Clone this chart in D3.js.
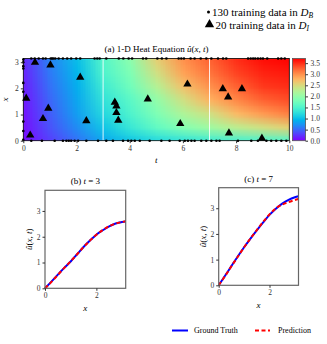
<!DOCTYPE html>
<html>
<head>
<meta charset="utf-8">
<script src="https://cdn.jsdelivr.net/npm/d3@7"></script>
<style>
  body { margin: 0; background: #fff; }
  svg { font-family: "Liberation Serif", serif; }
  .tick text { fill: #333; }
</style>
</head>
<body>
<div id="chart"></div>
<script>
// heat field: rows are x, columns are t = 0..10
const gridT = [0, 1, 2, 3, 4, 5, 6, 7, 8, 9, 10];
const gridX = [0, 0.52, 1.05, 1.57, 2.09, 2.62, 3.14];
const gridU = [
  [0.05, 0.30, 0.55, 0.85, 1.05, 1.20, 1.30, 1.40, 1.45, 1.50, 1.55],
  [0.08, 0.40, 0.70, 1.05, 1.35, 1.65, 1.90, 2.10, 2.30, 2.45, 2.60],
  [0.10, 0.45, 0.80, 1.20, 1.50, 1.85, 2.20, 2.45, 2.75, 2.95, 3.10],
  [0.12, 0.50, 0.85, 1.30, 1.60, 2.00, 2.45, 2.80, 3.05, 3.25, 3.35],
  [0.15, 0.55, 0.90, 1.40, 1.75, 2.25, 2.70, 3.00, 3.25, 3.45, 3.50],
  [0.18, 0.60, 0.95, 1.50, 1.85, 2.45, 2.90, 3.15, 3.40, 3.55, 3.60],
  [0.20, 0.65, 1.00, 1.55, 1.95, 2.60, 3.00, 3.25, 3.50, 3.65, 3.70]
];

// boundary / initial training points (D_B)
const topT = [0.3, 0.43, 0.58, 0.74, 0.84, 1.03, 1.08, 1.13, 1.2, 1.33, 1.49, 1.65, 1.8, 1.99, 2.14,
  2.68, 2.78, 2.87, 3.12, 3.59, 3.76, 3.96, 4.09, 4.5, 4.62, 5.04, 5.21, 5.38, 5.84, 5.94, 6.04,
  6.29, 6.44, 6.67, 6.88, 7.07, 7.32, 7.51, 7.63, 8.45, 8.55, 8.64, 8.72, 8.82, 8.92, 9.01, 9.17,
  9.58, 9.7, 9.83];
const bottomT = [0.3, 0.7, 1.18, 1.49, 1.62, 1.71, 1.8, 1.93, 2.06, 2.37, 2.81, 3.12, 3.37, 3.75,
  3.94, 4.06, 4.19, 4.38, 4.75, 5.19, 5.5, 5.88, 6.07, 6.19, 6.32, 6.44, 6.69, 6.88, 7.07, 7.26,
  7.38, 8.07, 8.57, 8.82, 9.14, 9.32, 9.51, 9.7, 9.89];
const leftX = [0.03, 0.37, 0.73, 1.87, 2.21, 2.76, 2.85, 3.0, 3.1];

// interior training points (D_I)
const interiorT = [0.44, 1.02, 2.14, 0.11, 0.94, 0.74, 2.37, 0.26, 3.44, 3.5, 3.5, 3.57, 4.68,
  6.17, 7.5, 8.22, 7.7, 5.9, 7.73, 8.97];
const interiorX = [2.99, 2.89, 2.42, 1.62, 1.24, 0.84, 0.76, 0.21, 1.47, 1.32, 1.07, 0.78, 1.59,
  2.16, 1.98, 1.98, 1.67, 0.65, 0.29, 0.09];

// slices
const sliceX = [0, 0.25, 0.5, 0.75, 1, 1.25, 1.5, 1.75, 2, 2.25, 2.5, 2.75, 3, Math.PI];
const truthT3 = [0, 0.26, 0.53, 0.79, 1.04, 1.32, 1.6, 1.85, 2.08, 2.25, 2.4, 2.51, 2.57, 2.59];
const predT3 = [0, 0.25, 0.52, 0.79, 1.05, 1.32, 1.6, 1.85, 2.08, 2.26, 2.41, 2.51, 2.57, 2.6];
const truthT7 = [0, 0.37, 0.75, 1.12, 1.48, 1.82, 2.14, 2.45, 2.74, 2.98, 3.18, 3.33, 3.43, 3.47];
const predT7 = [0, 0.36, 0.74, 1.11, 1.48, 1.82, 2.15, 2.47, 2.76, 3.0, 3.14, 3.24, 3.32, 3.36];

const width = 327, height = 344;
const uMax = 3.71;

function rainbow(v) {
  const s = Math.max(0, Math.min(1, v / uMax));
  const r = Math.min(1, Math.abs(2 * s - 0.5));
  const g = Math.sin(Math.PI * s);
  const b = Math.cos(Math.PI * s / 2);
  return [Math.round(r * 255), Math.round(g * 255), Math.round(b * 255)];
}

const svg = d3.select('#chart').append('svg')
  .attr('width', width)
  .attr('height', height);

// ---------- top legend ----------
const leg = svg.append('g').attr('font-size', '11px').attr('fill', '#000');
leg.append('circle').attr('cx', 208.5).attr('cy', 12).attr('r', 1.5);
const l1 = leg.append('text').attr('x', 212).attr('y', 15.5);
l1.append('tspan').text('130 training data in ');
l1.append('tspan').attr('font-style', 'italic').text('D');
l1.append('tspan').attr('font-style', 'italic').attr('font-size', '7.5px').attr('dy', 2.5).text('B');
leg.append('path')
  .attr('d', d3.symbol(d3.symbolTriangle, 38)())
  .attr('transform', 'translate(209.5,24.5)');
const l2 = leg.append('text').attr('x', 215.5).attr('y', 28.5);
l2.append('tspan').text('20 training data in ');
l2.append('tspan').attr('font-style', 'italic').text('D');
l2.append('tspan').attr('font-style', 'italic').attr('font-size', '7.5px').attr('dy', 2.5).text('I');

// ---------- heat map ----------
const hm = { left: 23.3, right: 289.3, top: 58.5, bottom: 140.7 };
const x = d3.scaleLinear().domain([0, 10]).range([hm.left, hm.right]);
const y = d3.scaleLinear().domain([0, Math.PI]).range([hm.bottom, hm.top]);

const canvas = document.createElement('canvas');
canvas.width = gridT.length;
canvas.height = gridX.length;
const ctx = canvas.getContext('2d');
const img = ctx.createImageData(gridT.length, gridX.length);
gridU.forEach((row, i) => {
  const py = gridX.length - 1 - i;
  row.forEach((v, j) => {
    const c = rainbow(v);
    const k = (py * gridT.length + j) * 4;
    img.data[k] = c[0]; img.data[k + 1] = c[1]; img.data[k + 2] = c[2]; img.data[k + 3] = 255;
  });
});
ctx.putImageData(img, 0, 0);

const dt = gridT[1] - gridT[0];
const dx = gridX[1] - gridX[0];
svg.append('clipPath').attr('id', 'hmclip')
  .append('rect')
  .attr('x', hm.left).attr('y', hm.top)
  .attr('width', hm.right - hm.left).attr('height', hm.bottom - hm.top);

svg.append('image')
  .attr('clip-path', 'url(#hmclip)')
  .attr('href', canvas.toDataURL())
  .attr('preserveAspectRatio', 'none')
  .attr('x', x(gridT[0] - dt / 2))
  .attr('y', y(gridX[gridX.length - 1] + dx / 2))
  .attr('width', x(gridT[gridT.length - 1] + dt / 2) - x(gridT[0] - dt / 2))
  .attr('height', y(gridX[0] - dx / 2) - y(gridX[gridX.length - 1] + dx / 2));

// slice markers
svg.append('g').selectAll('line')
  .data([3, 7])
  .join('line')
  .attr('x1', d => x(d)).attr('x2', d => x(d))
  .attr('y1', hm.top).attr('y2', hm.bottom)
  .attr('stroke', '#fff').attr('stroke-opacity', 0.85).attr('stroke-width', 1);

// D_B points
const bPts = topT.map(t => [t, Math.PI])
  .concat(bottomT.map(t => [t, 0]))
  .concat(leftX.map(v => [0, v]));
svg.append('g').selectAll('circle')
  .data(bPts)
  .join('circle')
  .attr('cx', d => x(d[0]))
  .attr('cy', d => y(d[1]))
  .attr('r', 1.3)
  .attr('fill', '#000');

// D_I points
svg.append('g').selectAll('path')
  .data(interiorT.map((t, i) => [t, interiorX[i]]))
  .join('path')
  .attr('d', d3.symbol(d3.symbolTriangle, 30)())
  .attr('transform', d => `translate(${x(d[0])},${y(d[1])})`)
  .attr('fill', '#000');

svg.append('rect')
  .attr('x', hm.left).attr('y', hm.top)
  .attr('width', hm.right - hm.left).attr('height', hm.bottom - hm.top)
  .attr('fill', 'none').attr('stroke', '#000').attr('stroke-width', 0.8);

function styleAxis(g) {
  g.attr('font-size', '7.5px').attr('font-family', '"Liberation Serif", serif');
  g.select('.domain').remove();
  g.selectAll('.tick line').attr('stroke', '#333');
}

const intFmt = d3.format('d');

svg.append('g')
  .attr('transform', `translate(0,${hm.bottom})`)
  .call(d3.axisBottom(x).tickValues([0, 2, 4, 6, 8, 10]).tickFormat(intFmt).tickSize(2.5).tickPadding(2))
  .call(styleAxis);
svg.append('g')
  .attr('transform', `translate(${hm.left},0)`)
  .call(d3.axisLeft(y).tickValues([0, 1, 2, 3]).tickFormat(intFmt).tickSize(2.5).tickPadding(2))
  .call(styleAxis);

svg.append('text').attr('x', (hm.left + hm.right) / 2).attr('y', 163)
  .attr('text-anchor', 'middle').attr('font-size', '9px').attr('font-style', 'italic').text('t');
svg.append('text').attr('transform', `translate(8,${(hm.top + hm.bottom) / 2}) rotate(-90)`)
  .attr('text-anchor', 'middle').attr('font-size', '9px').attr('font-style', 'italic').text('x');

const title = svg.append('text').attr('x', 156.5).attr('y', 52)
  .attr('text-anchor', 'middle').attr('font-size', '9px');
title.append('tspan').text('(a) 1-D  Heat Equation  ');
title.append('tspan').attr('font-style', 'italic').text('û');
title.append('tspan').text('(');
title.append('tspan').attr('font-style', 'italic').text('x');
title.append('tspan').text(', ');
title.append('tspan').attr('font-style', 'italic').text('t');
title.append('tspan').text(')');

// ---------- colour bar ----------
const cb = { left: 292.5, right: 305.5 };
const cy = d3.scaleLinear().domain([0, uMax]).range([hm.bottom, hm.top]);
const grad = svg.append('defs').append('linearGradient')
  .attr('id', 'cbgrad').attr('x1', 0).attr('y1', 1).attr('x2', 0).attr('y2', 0);
d3.range(0, 1.0001, 0.05).forEach(s => {
  const c = rainbow(s * uMax);
  grad.append('stop').attr('offset', s).attr('stop-color', `rgb(${c[0]},${c[1]},${c[2]})`);
});
svg.append('rect')
  .attr('x', cb.left).attr('y', hm.top)
  .attr('width', cb.right - cb.left).attr('height', hm.bottom - hm.top)
  .attr('fill', 'url(#cbgrad)').attr('stroke', '#555').attr('stroke-width', 0.8);
svg.append('g')
  .attr('transform', `translate(${cb.right},0)`)
  .call(d3.axisRight(cy).tickValues(d3.range(0, 3.51, 0.5)).tickFormat(d3.format('.1f')).tickSize(2.5).tickPadding(2.5))
  .call(styleAxis);

// ---------- slice plots ----------
function slicePlot(box, label, tVal, truth, pred) {
  const sx = d3.scaleLinear().domain([0, Math.PI]).range([box.left, box.right]);
  const sy = d3.scaleLinear().domain([0, 3.8]).range([box.bottom, box.top]);
  const g = svg.append('g');
  const line = d3.line().x((d, i) => sx(sliceX[i])).y(d => sy(d)).curve(d3.curveMonotoneX);
  g.append('path').datum(truth).attr('d', line)
    .attr('fill', 'none').attr('stroke', '#0000ff').attr('stroke-width', 2);
  g.append('path').datum(pred).attr('d', line)
    .attr('fill', 'none').attr('stroke', '#ff0000').attr('stroke-width', 2)
    .attr('stroke-dasharray', '4,2.5');
  g.append('rect')
    .attr('x', box.left).attr('y', box.top)
    .attr('width', box.right - box.left).attr('height', box.bottom - box.top)
    .attr('fill', 'none').attr('stroke', '#666').attr('stroke-width', 1.2);
  g.append('g').attr('transform', `translate(0,${box.bottom})`)
    .call(d3.axisBottom(sx).tickValues([0, 2]).tickFormat(intFmt).tickSize(2.5).tickPadding(2))
    .call(styleAxis);
  g.append('g').attr('transform', `translate(${box.left},0)`)
    .call(d3.axisLeft(sy).tickValues([0, 1, 2, 3]).tickFormat(intFmt).tickSize(2.5).tickPadding(2))
    .call(styleAxis);
  const tt = g.append('text').attr('x', (box.left + box.right) / 2).attr('y', box.top - 6)
    .attr('text-anchor', 'middle').attr('font-size', '9px');
  tt.append('tspan').text(label + ' ');
  tt.append('tspan').attr('font-style', 'italic').text('t');
  tt.append('tspan').text(' = ' + tVal);
  g.append('text').attr('x', (box.left + box.right) / 2).attr('y', box.bottom + 23)
    .attr('text-anchor', 'middle').attr('font-size', '9px').attr('font-style', 'italic').text('x');
  const yl = g.append('text')
    .attr('transform', `translate(${box.left - 13},${(box.top + box.bottom) / 2}) rotate(-90)`)
    .attr('text-anchor', 'middle').attr('font-size', '9px');
  yl.append('tspan').attr('font-style', 'italic').text('û');
  yl.append('tspan').text('(');
  yl.append('tspan').attr('font-style', 'italic').text('x');
  yl.append('tspan').text(', ');
  yl.append('tspan').attr('font-style', 'italic').text('t');
  yl.append('tspan').text(')');
}

slicePlot({ left: 45, right: 125.7, top: 190.3, bottom: 288.3 }, '(b)', 3, truthT3, predT3);
slicePlot({ left: 218.7, right: 298.5, top: 187.7, bottom: 285.3 }, '(c)', 7, truthT7, predT7);

// ---------- bottom legend ----------
const bl = svg.append('g').attr('font-size', '8px');
bl.append('line').attr('x1', 172).attr('x2', 188).attr('y1', 330.5).attr('y2', 330.5)
  .attr('stroke', '#0000ff').attr('stroke-width', 2);
bl.append('text').attr('x', 194).attr('y', 333).text('Ground Truth');
bl.append('line').attr('x1', 255).attr('x2', 270).attr('y1', 330.5).attr('y2', 330.5)
  .attr('stroke', '#ff0000').attr('stroke-width', 2).attr('stroke-dasharray', '4,2.5');
bl.append('text').attr('x', 278).attr('y', 333).text('Prediction');
</script>
</body>
</html>
